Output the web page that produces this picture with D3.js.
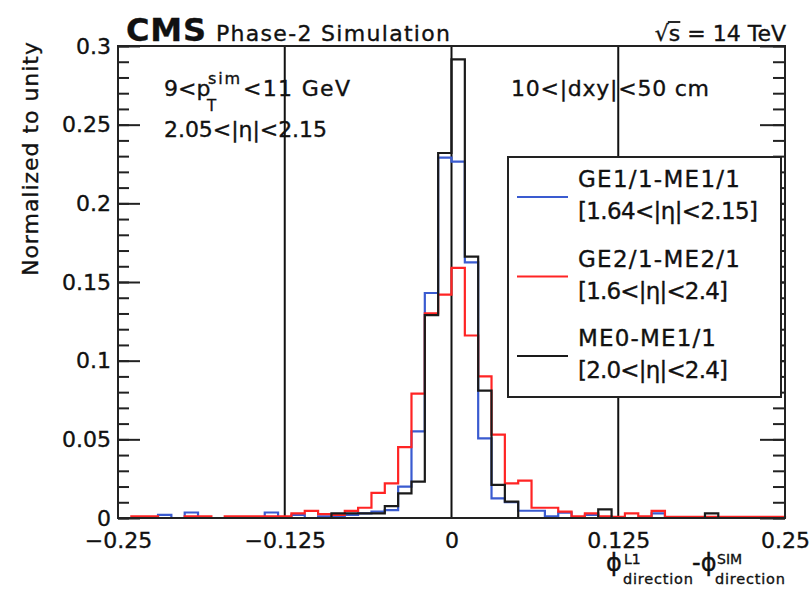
<!DOCTYPE html>
<html>
<head>
<meta charset="utf-8">
<script src="https://cdn.jsdelivr.net/npm/d3@7"></script>
<style>
  body { margin: 0; background: #fff; }
  text { font-family: "DejaVu Sans", sans-serif; fill: #111; stroke: #111; stroke-width: 0.35px; }
</style>
</head>
<body>
<div id="chart"></div>
<script>
// 50 bins of 0.01 from -0.25 to 0.25
const binStart = -0.25;
const binWidth = 0.01;

const ge11 = [
  0, 0, 0, 0.002, 0, 0.0035, 0, 0, 0, 0,
  0, 0.0035, 0, 0.002, 0, 0.001, 0.001, 0.002, 0.003, 0.004,
  0.005, 0.02, 0.055, 0.143, 0.229, 0.2265, 0.1625, 0.0506, 0.0125, 0.01,
  0.0046, 0.0046, 0.001, 0.0034, 0, 0.002, 0, 0, 0, 0,
  0.003, 0, 0, 0, 0, 0, 0, 0, 0, 0
];
const ge21 = [
  0, 0.001, 0.001, 0, 0, 0.001, 0.001, 0, 0.001, 0.001,
  0.001, 0.001, 0.001, 0.003, 0.0045, 0.0025, 0.002, 0.0045, 0.0065, 0.016,
  0.022, 0.045, 0.079, 0.13, 0.142, 0.159, 0.116, 0.09, 0.053, 0.022,
  0.0237, 0.0065, 0.0065, 0.004, 0.001, 0.003, 0.001, 0.0008, 0.003, 0.001,
  0.0045, 0.0008, 0.0008, 0.0008, 0.0008, 0.0008, 0.0008, 0.0008, 0.0008, 0.0008
];
const me0 = [
  0, 0, 0, 0, 0, 0, 0, 0, 0, 0,
  0, 0, 0, 0, 0, 0, 0.003, 0.003, 0.003, 0.003,
  0.0075, 0.0157, 0.0231, 0.129, 0.232, 0.2915, 0.1661, 0.0809, 0.021, 0.0104,
  0, 0, 0, 0, 0, 0, 0.0055, 0, 0, 0,
  0, 0, 0, 0, 0.003, 0, 0, 0, 0, 0
];

const xTicks = [-0.25, -0.125, 0, 0.125, 0.25];
const yTicks = [0, 0.05, 0.1, 0.15, 0.2, 0.25, 0.3];
const yMinor = d3.range(0, 0.3001, 0.01);
const refLines = [-0.125, 0, 0.125];

const legendNames = ["GE1/1-ME1/1", "GE2/1-ME2/1", "ME0-ME1/1"];
const legendRanges = ["[1.64<|η|<2.15]", "[1.6<|η|<2.4]", "[2.0<|η|<2.4]"];
const seriesColors = ["#3a5bd0", "#ff2424", "#1a1a1a"];

const W = 812, H = 589;
const frame = { left: 118, right: 785, top: 46, bottom: 518 };

const svg = d3.select("#chart").append("svg")
  .attr("width", W).attr("height", H);

const x = d3.scaleLinear().domain([-0.25, 0.25]).range([frame.left, frame.right]);
const y = d3.scaleLinear().domain([0, 0.3]).range([frame.bottom, frame.top]);

function histPoints(values) {
  const pts = [[x(binStart), y(0)]];
  values.forEach((v, i) => {
    const lo = binStart + i * binWidth;
    pts.push([x(lo), y(v)], [x(lo + binWidth), y(v)]);
  });
  pts.push([x(binStart + values.length * binWidth), y(0)]);
  return pts;
}

// reference lines
svg.append("g").selectAll("line").data(refLines).enter().append("line")
  .attr("x1", d => x(d)).attr("x2", d => x(d))
  .attr("y1", frame.top).attr("y2", frame.bottom)
  .attr("stroke", "#111").attr("stroke-width", 2);

// histograms: blue, red, black
const series = [ge11, ge21, me0];
series.forEach((values, k) => {
  svg.append("path")
    .attr("d", d3.line()(histPoints(values)))
    .attr("fill", "none")
    .attr("stroke", seriesColors[k])
    .attr("stroke-width", 2.2);
});

// frame
svg.append("rect")
  .attr("x", frame.left).attr("y", frame.top)
  .attr("width", frame.right - frame.left).attr("height", frame.bottom - frame.top)
  .attr("fill", "none").attr("stroke", "#222").attr("stroke-width", 2);

// y axes: left with labels, right mirrored
const yAxisG = svg.append("g").attr("transform", `translate(${frame.left},0)`);
yAxisG.append("g").call(d3.axisLeft(y).tickValues(yMinor).tickSizeInner(-11).tickSizeOuter(0).tickFormat(""));
yAxisG.append("g").call(d3.axisLeft(y).tickValues(yTicks).tickSizeInner(-22).tickSizeOuter(0)
  .tickPadding(7).tickFormat(d3.format("~g")));
const yRight = svg.append("g").attr("transform", `translate(${frame.right},0)`);
yRight.append("g").call(d3.axisRight(y).tickValues(yMinor).tickSizeInner(-12).tickSizeOuter(0).tickFormat(""));
yRight.append("g").call(d3.axisRight(y).tickValues(yTicks).tickSizeInner(-25).tickSizeOuter(0).tickFormat(""));
svg.selectAll(".domain").remove();
svg.selectAll(".tick line").attr("stroke", "#222").attr("stroke-width", 2);

// x axis labels
const xAxisG = svg.append("g").attr("transform", `translate(0,${frame.bottom})`)
  .call(d3.axisBottom(x).tickValues(xTicks).tickSize(0).tickPadding(14)
    .tickFormat(d => d === 0 ? "0" : (d < 0 ? "\u2212" : "") + Math.abs(d)));
xAxisG.select(".domain").remove();

svg.selectAll(".tick text")
  .style("font-family", "'DejaVu Sans', sans-serif")
  .style("font-size", "22px")
  .attr("fill", "#111");

// y title
svg.append("text")
  .attr("transform", "translate(38,42) rotate(-90)")
  .attr("text-anchor", "end")
  .attr("textLength", 234)
  .style("font-size", "22px")
  .text("Normalized to unity");

// x title
const xt = svg.append("g");
xt.append("text").attr("x", 606).attr("y", 571).style("font-size", "24px").text("ϕ");
xt.append("text").attr("x", 624).attr("y", 564).style("font-size", "14px").text("L1");
xt.append("text").attr("x", 623).attr("y", 584).attr("textLength", 70).style("font-size", "14.5px").text("direction");
xt.append("text").attr("x", 692).attr("y", 571).style("font-size", "24px").text("-ϕ");
xt.append("text").attr("x", 717).attr("y", 564).style("font-size", "14px").text("SIM");
xt.append("text").attr("x", 715).attr("y", 584).attr("textLength", 70).style("font-size", "14.5px").text("direction");

// header
svg.append("text").attr("x", 126).attr("y", 41)
  .style("font-size", "32px").style("font-weight", "bold").attr("textLength", 80).text("CMS");
svg.append("text").attr("x", 216).attr("y", 41)
  .style("font-size", "22px").attr("textLength", 234).text("Phase-2 Simulation");
const rs = svg.append("text").attr("x", 786).attr("y", 41).attr("text-anchor", "end")
  .style("font-size", "22px").text("√s = 14 TeV");
const rsNode = rs.node();
const sStart = rsNode.getStartPositionOfChar(1).x;
const sEnd = rsNode.getEndPositionOfChar(1).x;
svg.append("line")
  .attr("x1", sStart - 1).attr("x2", sEnd)
  .attr("y1", 22).attr("y2", 22)
  .attr("stroke", "#111").attr("stroke-width", 1.8);

// in-plot labels
svg.append("text").attr("x", 164).attr("y", 96).style("font-size", "22px").text("9<p");
svg.append("text").attr("x", 208).attr("y", 84).style("font-size", "16px")
  .attr("textLength", 32).text("sim");
svg.append("text").attr("x", 207).attr("y", 111).style("font-size", "15px").text("T");
svg.append("text").attr("x", 243).attr("y", 96).style("font-size", "22px")
  .attr("textLength", 107).text("<11 GeV");
svg.append("text").attr("x", 164).attr("y", 137).style("font-size", "22px")
  .attr("textLength", 163).text("2.05<|η|<2.15");
svg.append("text").attr("x", 511).attr("y", 96).style("font-size", "22px")
  .attr("textLength", 198).text("10<|dxy|<50 cm");

// legend
const legend = svg.append("g");
legend.append("rect")
  .attr("x", 508).attr("y", 157).attr("width", 273).attr("height", 240)
  .attr("fill", "#fff").attr("stroke", "#222").attr("stroke-width", 2);
const nameW = [162, 162, 138];
const rangeW = [180, 150, 150];
legendNames.forEach((name, i) => {
  const ly = 197 + i * 79.5;
  legend.append("line")
    .attr("x1", 517).attr("x2", 568).attr("y1", ly).attr("y2", ly)
    .attr("stroke", seriesColors[i]).attr("stroke-width", 2);
  legend.append("text").attr("x", 578).attr("y", ly - 10)
    .style("font-size", "23px").attr("textLength", nameW[i]).text(name);
  legend.append("text").attr("x", 578).attr("y", ly + 22)
    .style("font-size", "23px").attr("textLength", rangeW[i]).text(legendRanges[i]);
});
</script>
</body>
</html>
